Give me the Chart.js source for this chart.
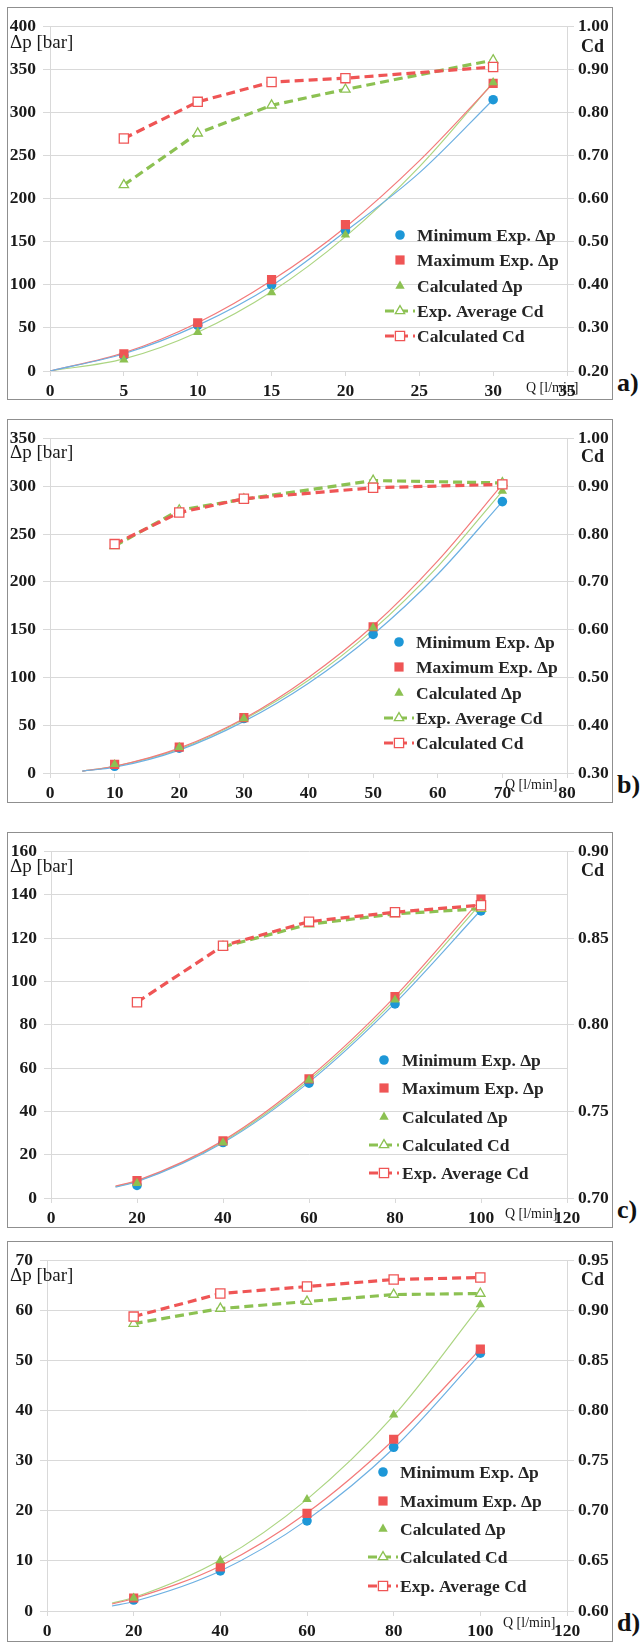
<!DOCTYPE html>
<html>
<head>
<meta charset="utf-8">
<script src="https://cdn.jsdelivr.net/npm/chart.js@4.4.1/dist/chart.umd.min.js"></script>
<style>
  body { margin: 0; background: #fff; width: 643px; height: 1646px; position: relative; overflow: hidden; font-family: "Liberation Serif", serif; }
  .box { position: absolute; left: 7px; width: 606px; border: 1.5px solid #8f8f8f; box-sizing: border-box; }
  .tag { position: absolute; left: 617px; font: bold 26px "Liberation Serif", serif; color: #111; line-height: 26px; }
  canvas { position: absolute; left: 9px; }
</style>
</head>
<body>
<script>
// ---- panel a) ----
const qA = [5, 10, 15, 20, 30];
const minDpA = [18, 53, 100, 163, 315];
const maxDpA = [20, 56, 106, 170, 334];
const calcDpA = [13, 45, 91, 158, 335];
const greenCdA = [0.632, 0.752, 0.817, 0.854, 0.922];   // Exp. Average Cd
const redCdA = [0.740, 0.825, 0.871, 0.880, 0.906];     // Calculated Cd
const trendQA = [0, 5, 10, 15, 20, 25, 30];
const trendMinA = [0, 20, 53, 99, 162, 230, 315];
const trendMaxA = [0, 21, 56, 105, 167, 244, 334];
const trendCalcA = [0, 14, 45, 92, 156, 237, 335];

// ---- panel b) ----
const qB = [10, 20, 30, 50, 70];
const minDpB = [7, 26, 57, 145, 284];
const maxDpB = [9, 27, 58, 153, 302];
const calcDpB = [9, 27, 57, 152, 295];
const greenCdB = [0.775, 0.850, 0.873, 0.912, 0.907];   // Exp. Average Cd
const redCdB = [0.779, 0.845, 0.874, 0.897, 0.904];     // Calculated Cd
const trendQB = [5, 10, 20, 30, 40, 50, 60, 70];
const trendMinB = [2, 6, 24, 54, 94, 145, 208, 284];
const trendMaxB = [2, 7, 26, 57, 100, 154, 222, 302];
const trendCalcB = [2, 7, 25, 56, 97, 150, 216, 295];

// ---- panel c) ----
const qC = [20, 40, 60, 80, 100];
const minDpC = [5.8, 25.6, 53, 89.6, 132.6];
const maxDpC = [8, 26.4, 55, 93, 138];
const calcDpC = [6.8, 25.6, 54.5, 91.5, 136];
const greenCdC = [null, 0.845, 0.858, 0.864, 0.867];    // Calculated Cd
const redCdC = [0.813, 0.8456, 0.8595, 0.865, 0.869];   // Exp. Average Cd
const trendQC = [15, 20, 40, 60, 80, 100];
const trendMinC = [5, 7.5, 25.5, 53.5, 90, 133];
const trendMaxC = [5.5, 8, 26.5, 55.5, 93, 138];
const trendCalcC = [5.3, 7.8, 26, 54.5, 91.5, 136];

// ---- panel d) ----
const qD = [20, 40, 60, 80, 100];
const minDpD = [2.2, 8.0, 18.0, 32.7, 51.5];
const maxDpD = [2.6, 8.8, 19.5, 34.3, 52.3];
const calcDpD = [2.6, 10.1, 22.3, 39.2, 61.2];
const greenCdD = [0.887, 0.902, 0.909, 0.916, 0.917];   // Calculated Cd
const redCdD = [0.894, 0.917, 0.924, 0.931, 0.933];     // Exp. Average Cd
const trendQD = [15, 20, 40, 60, 80, 100];
const trendMinD = [1.0, 1.9, 8.0, 18.2, 32.5, 51.3];
const trendMaxD = [1.4, 2.5, 9.0, 19.6, 34.2, 52.3];
const trendCalcD = [1.6, 2.7, 10.2, 22.3, 39.0, 61.0];

// axis ranges: [min, max, step]
const xAxisA = [0, 35, 5], dpAxisA = [0, 400, 50], cdAxisA = [0.2, 1.0, 0.1];
const xAxisB = [0, 80, 10], dpAxisB = [0, 350, 50], cdAxisB = [0.3, 1.0, 0.1];
const xAxisC = [0, 120, 20], dpAxisC = [0, 160, 20], cdAxisC = [0.7, 0.9, 0.05];
const xAxisD = [0, 120, 20], dpAxisD = [0, 70, 10], cdAxisD = [0.6, 0.95, 0.05];

const legendAB = ['Minimum Exp. \u0394p', 'Maximum Exp. \u0394p', 'Calculated \u0394p', 'Exp. Average Cd', 'Calculated Cd'];
const legendCD = ['Minimum Exp. \u0394p', 'Maximum Exp. \u0394p', 'Calculated \u0394p', 'Calculated Cd', 'Exp. Average Cd'];

const BLUE = '#1d97d7', RED = '#ef5555', GREEN = '#8cc152';
const T_BLUE = '#6db0e2', T_RED = '#f37a7a', T_GREEN = '#acd582';
const GRID = '#d9d9d9', TXT = '#1a1a1a';
const SERIF = '"Liberation Serif", serif';

function pts(xs, ys) { return xs.map((x, i) => ({ x: x, y: ys[i] })); }

const panels = [
  { tag: 'a)', boxTop: 7, boxBottom: 400, yTop: 23, y0: 371, x0: 50, qx: 526, qdy: 17,
    legX: 400, legTxt: 417, legY: [235, 260, 286, 311, 336], names: legendAB,
    xr: xAxisA, dr: dpAxisA, cr: cdAxisA,
    q: qA, mn: minDpA, mx: maxDpA, ca: calcDpA, g: greenCdA, r: redCdA,
    tq: trendQA, tmn: trendMinA, tmx: trendMaxA, tca: trendCalcA },
  { tag: 'b)', boxTop: 419, boxBottom: 803, yTop: 433, y0: 773, x0: 50, qx: 505, qdy: 12,
    legX: 399, legTxt: 416, legY: [642, 667, 693, 718, 743], names: legendAB,
    xr: xAxisB, dr: dpAxisB, cr: cdAxisB,
    q: qB, mn: minDpB, mx: maxDpB, ca: calcDpB, g: greenCdB, r: redCdB,
    tq: trendQB, tmn: trendMinB, tmx: trendMaxB, tca: trendCalcB },
  { tag: 'c)', boxTop: 832, boxBottom: 1228, yTop: 847, y0: 1198, x0: 51, qx: 505, qdy: 16,
    legX: 384, legTxt: 402, legY: [1060, 1088, 1117, 1145, 1173], names: legendCD,
    xr: xAxisC, dr: dpAxisC, cr: cdAxisC,
    q: qC, mn: minDpC, mx: maxDpC, ca: calcDpC, g: greenCdC, r: redCdC,
    tq: trendQC, tmn: trendMinC, tmx: trendMaxC, tca: trendCalcC },
  { tag: 'd)', boxTop: 1241, boxBottom: 1642, yTop: 1256, y0: 1611, x0: 47, qx: 503, qdy: 12,
    legX: 383, legTxt: 400, legY: [1472, 1501, 1529, 1557, 1586], names: legendCD,
    xr: xAxisD, dr: dpAxisD, cr: cdAxisD,
    q: qD, mn: minDpD, mx: maxDpD, ca: calcDpD, g: greenCdD, r: redCdD,
    tq: trendQD, tmn: trendMinD, tmx: trendMaxD, tca: trendCalcD }
];

function marker(ctx, kind, x, y, fill, stroke) {
  ctx.beginPath();
  if (kind === 'circle') {
    ctx.arc(x, y, 4.8, 0, Math.PI * 2);
  } else if (kind === 'rect') {
    ctx.rect(x - 4.6, y - 4.6, 9.2, 9.2);
  } else {
    const r = 5.4;
    ctx.moveTo(x, y - r);
    ctx.lineTo(x + r * 0.866, y + r * 0.5);
    ctx.lineTo(x - r * 0.866, y + r * 0.5);
    ctx.closePath();
  }
  ctx.fillStyle = fill;
  ctx.fill();
  if (stroke) { ctx.strokeStyle = stroke; ctx.lineWidth = 1.3; ctx.stroke(); }
}

function build(p) {
  const box = document.createElement('div');
  box.className = 'box';
  box.style.top = p.boxTop + 'px';
  box.style.height = (p.boxBottom - p.boxTop) + 'px';
  document.body.appendChild(box);

  const tag = document.createElement('div');
  tag.className = 'tag';
  tag.textContent = p.tag;
  tag.style.top = (p.y0 - 1) + 'px';
  document.body.appendChild(tag);

  const top = p.boxTop + 2, h = p.boxBottom - p.boxTop - 4;
  const cv = document.createElement('canvas');
  cv.width = 602; cv.height = h;
  cv.style.top = top + 'px';
  cv.style.width = '602px'; cv.style.height = h + 'px';
  document.body.appendChild(cv);

  const tickFont = { family: SERIF, size: 17.5, weight: 'bold' };
  const trend = (xs, ys, col) => ({
    data: pts(xs, ys), borderColor: col, borderWidth: 1.2, pointRadius: 0,
    cubicInterpolationMode: 'monotone', order: 6, yAxisID: 'y'
  });
  const scatter = (ys, style, rad, col, ord) => ({
    data: pts(p.q, ys), showLine: false, pointStyle: style, pointRadius: rad,
    pointBackgroundColor: col, pointBorderColor: col, pointBorderWidth: 0, order: ord, yAxisID: 'y'
  });
  const cdLine = (ys, style, rad, col, ord) => ({
    data: pts(p.q, ys), borderColor: col, borderWidth: 3.2, borderDash: [9, 5],
    pointStyle: style, pointRadius: rad, pointBackgroundColor: '#fff', pointBorderColor: col,
    pointBorderWidth: 1.3, order: ord, yAxisID: 'y2', spanGaps: false
  });

  const overlay = {
    id: 'overlay',
    afterDraw(chart) {
      const ctx = chart.ctx;
      ctx.save();
      ctx.textBaseline = 'middle';
      ctx.fillStyle = TXT;
      ctx.font = '19px ' + SERIF;
      ctx.fillText('\u0394p [bar]', 1, p.yTop + 20 - top);
      ctx.font = 'bold 18px ' + SERIF;
      ctx.fillText('Cd', 572, p.yTop + 24 - top);
      ctx.font = '14px ' + SERIF;
      ctx.fillText('Q [l/min]', p.qx - 9, p.y0 + p.qdy - top);

      const kinds = ['circle', 'rect', 'triangle', 'lineTri', 'lineRect'];
      const cols = [BLUE, RED, GREEN, GREEN, RED];
      p.legY.forEach((yy, i) => {
        const x = p.legX - 9, y = yy - top;
        const k = kinds[i];
        if (k === 'lineTri' || k === 'lineRect') {
          ctx.save();
          ctx.strokeStyle = cols[i]; ctx.lineWidth = 3.2; ctx.setLineDash([9, 5]);
          ctx.beginPath(); ctx.moveTo(x - 15, y); ctx.lineTo(x + 15, y); ctx.stroke();
          ctx.restore();
          marker(ctx, k === 'lineTri' ? 'triangle' : 'rect', x, y, '#fff', cols[i]);
        } else {
          marker(ctx, k, x, y, cols[i], null);
        }
        ctx.fillStyle = '#262626';
        ctx.font = 'bold 17.5px ' + SERIF;
        ctx.fillText(p.names[i], p.legTxt - 9, y + 1);
      });
      ctx.restore();
    }
  };

  new Chart(cv, {
    type: 'line',
    data: {
      datasets: [
        trend(p.tq, p.tmn, T_BLUE),
        trend(p.tq, p.tmx, T_RED),
        trend(p.tq, p.tca, T_GREEN),
        scatter(p.mn, 'circle', 4.8, BLUE, 3),
        scatter(p.mx, 'rect', 6.5, RED, 2),
        scatter(p.ca, 'triangle', 5.4, GREEN, 1),
        cdLine(p.g, 'triangle', 5.4, GREEN, 0),
        cdLine(p.r, 'rect', 6.5, RED, -1)
      ]
    },
    options: {
      responsive: false,
      animation: false,
      layout: { padding: { top: p.yTop - top, left: 0, right: 0, bottom: 0 } },
      plugins: { legend: { display: false }, tooltip: { enabled: false } },
      scales: {
        x: {
          type: 'linear', min: p.xr[0], max: p.xr[1],
          ticks: { stepSize: p.xr[2], autoSkip: false, maxRotation: 0, padding: 5, color: TXT, font: tickFont },
          grid: { drawOnChartArea: false, tickLength: 5, color: GRID },
          border: { color: GRID },
          afterFit(s) { s.height = top + h - p.y0; }
        },
        y: {
          position: 'left', min: p.dr[0], max: p.dr[1],
          ticks: { stepSize: p.dr[2], padding: 7, color: TXT, font: tickFont },
          grid: { color: GRID, tickLength: 7 },
          border: { color: GRID },
          afterFit(s) { s.width = p.x0 - 9; }
        },
        y2: {
          position: 'right', min: p.cr[0], max: p.cr[1],
          ticks: { stepSize: p.cr[2], padding: 4, color: TXT, font: tickFont, callback: v => v.toFixed(2) },
          grid: { drawOnChartArea: false, tickLength: 7, color: GRID },
          border: { color: GRID },
          afterFit(s) { s.width = 611 - 567; }
        }
      }
    },
    plugins: [overlay]
  });
}

// make sure the serif face is ready before the canvases draw text
Promise.all([
  document.fonts.load('bold 17px "Liberation Serif"'),
  document.fonts.load('19px "Liberation Serif"')
]).catch(() => {}).then(() => panels.forEach(build));
</script>
</body>
</html>
